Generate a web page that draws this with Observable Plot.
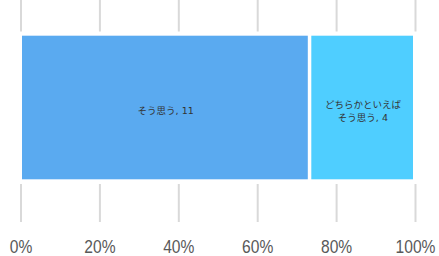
<!DOCTYPE html>
<html>
<head>
<meta charset="utf-8">
<script src="https://cdn.jsdelivr.net/npm/d3@7"></script>
<script src="https://cdn.jsdelivr.net/npm/@observablehq/plot@0.6"></script>
<style>
  html, body { margin: 0; padding: 0; background: #fff; }
</style>
</head>
<body>
<div id="chart"></div>
<script>
const categories = ["そう思う", "どちらかといえばそう思う"];
const labels = ["そう思う, 11", "どちらかといえば\nそう思う, 4"];
const values = [11, 4];
const colors = ["#5AAAF0", "#4FCEFF"];
const tickValues = [0, 0.2, 0.4, 0.6, 0.8, 1];

const data = categories.map((c, i) => ({category: c, label: labels[i], value: values[i]}));

const chart = Plot.plot({
  width: 439,
  height: 256,
  marginLeft: 20.5,
  marginRight: 24,
  marginTop: 0,
  marginBottom: 34,
  style: {background: "#fff"},
  x: {domain: [0, 1], ticks: tickValues, tickFormat: d3.format(".0%"), label: null},
  color: {domain: categories, range: colors},
  marks: [
    Plot.ruleX(tickValues, {stroke: "#d9d9d9", strokeWidth: 2}),
    Plot.barX(data, Plot.stackX({x: "value", offset: "normalize", fill: "#fff",
      insetTop: 31.5, insetBottom: 38, insetLeft: -4, insetRight: -4})),
    Plot.barX(data, Plot.stackX({x: "value", offset: "normalize", fill: "category",
      insetTop: 35.7, insetBottom: 42.7, insetLeft: 1.5, insetRight: 2})),
    Plot.textX(data, Plot.stackX({x: "value", offset: "normalize", text: "label",
      frameAnchor: "middle", dy: -1.5, fill: "#333", fontSize: 9.5, lineHeight: 1.38,
      fontFamily: "'DejaVu Sans', 'Noto Sans CJK JP', sans-serif"})),
    Plot.axisX({ticks: tickValues, tickFormat: d3.format(".0%"), tickSize: 0, tickPadding: 16.5,
      fontSize: 19, fill: "#595959", label: null,
      fontFamily: "'Liberation Sans', Arial, sans-serif"})
  ]
});
document.getElementById("chart").appendChild(chart);
// narrow the tick labels to match the condensed face of the reference
chart.querySelectorAll("text").forEach(t => {
  if (!/^\d+%$/.test(t.textContent.trim())) return;
  const w = t.getComputedTextLength();
  t.setAttribute("lengthAdjust", "spacingAndGlyphs");
  t.setAttribute("textLength", (w * 0.82).toFixed(2));
});
</script>
</body>
</html>
